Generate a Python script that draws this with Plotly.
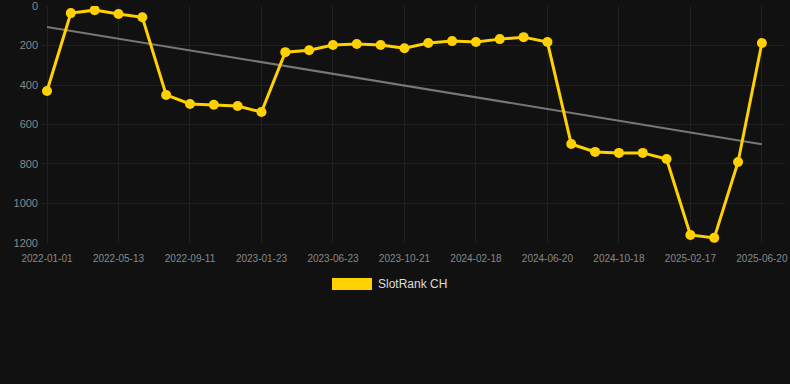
import plotly.graph_objects as go

dates = ["2022-01-01", "2022-02-14", "2022-03-30", "2022-05-13", "2022-06-22", "2022-08-01",
         "2022-09-11", "2022-10-25", "2022-12-09", "2023-01-23", "2023-03-12", "2023-05-07",
         "2023-06-23", "2023-08-01", "2023-09-11", "2023-10-21", "2023-12-01", "2024-01-10",
         "2024-02-18", "2024-04-01", "2024-05-12", "2024-06-20", "2024-07-31", "2024-09-08",
         "2024-10-18", "2024-11-28", "2025-01-07", "2025-02-17", "2025-03-30", "2025-05-10",
         "2025-06-20"]
ranks = [430, 35, 20, 40, 56, 450, 496, 500, 506, 537, 233, 223, 197, 192, 197, 213,
         187, 177, 182, 167, 157, 182, 699, 739, 744, 744, 775, 1160, 1175, 790, 187]
trend_x = ["2022-01-01", "2025-06-20"]
trend_y = [105, 700]
tick_labels = dates[::3]
y_ticks = [0, 200, 400, 600, 800, 1000, 1200]
series_name = "SlotRank CH"

gold = "#FFD100"
fig = go.Figure()
fig.add_trace(go.Scatter(x=trend_x, y=trend_y, mode="lines",
                         line=dict(color="#777777", width=2), showlegend=False, hoverinfo="skip"))
fig.add_trace(go.Scatter(x=dates, y=ranks, mode="lines+markers", name=series_name,
                         line=dict(color=gold, width=3), marker=dict(color=gold, size=10),
                         showlegend=False))

# legend drawn manually (rectangle swatch)
fig.add_shape(type="rect", xref="paper", yref="paper",
              x0=(332 - 42) / 743, x1=(372 - 42) / 743,
              y0=(243 - 290) / 237, y1=(243 - 278) / 237,
              fillcolor=gold, line=dict(width=0))
fig.add_annotation(xref="paper", yref="paper", x=(376 - 42) / 743, y=(243 - 284) / 237,
                   text=series_name, showarrow=False, xanchor="left", yanchor="middle",
                   font=dict(family="Liberation Sans, Arial", size=12, color="#dddddd"))

fig.update_layout(
    width=790, height=384,
    margin=dict(l=42, r=5, t=6, b=141),
    paper_bgcolor="#111111", plot_bgcolor="#111111",
    font=dict(family="Liberation Sans, Arial", color="#888888"),
    showlegend=False,
    xaxis=dict(type="category", categoryorder="array", categoryarray=dates, automargin=False,
               range=[-0.21, 30.97], tickvals=tick_labels, ticktext=tick_labels,
               tickfont=dict(size=10, color="#888888"), showgrid=True, ticklabelstandoff=8,
               gridcolor="#202020", gridwidth=1, zeroline=False, showline=False, ticks=""),
    yaxis=dict(range=[1201, -1], tickvals=y_ticks, tickfont=dict(size=11, color="#888888"),
               automargin=False,
               showgrid=True, gridcolor="#202020", gridwidth=1, zeroline=False, ticks="",
               ticklabelstandoff=3),
)
fig.write_html("out.html", config={"displayModeBar": False},
               post_script="document.body.style.margin='0';")
